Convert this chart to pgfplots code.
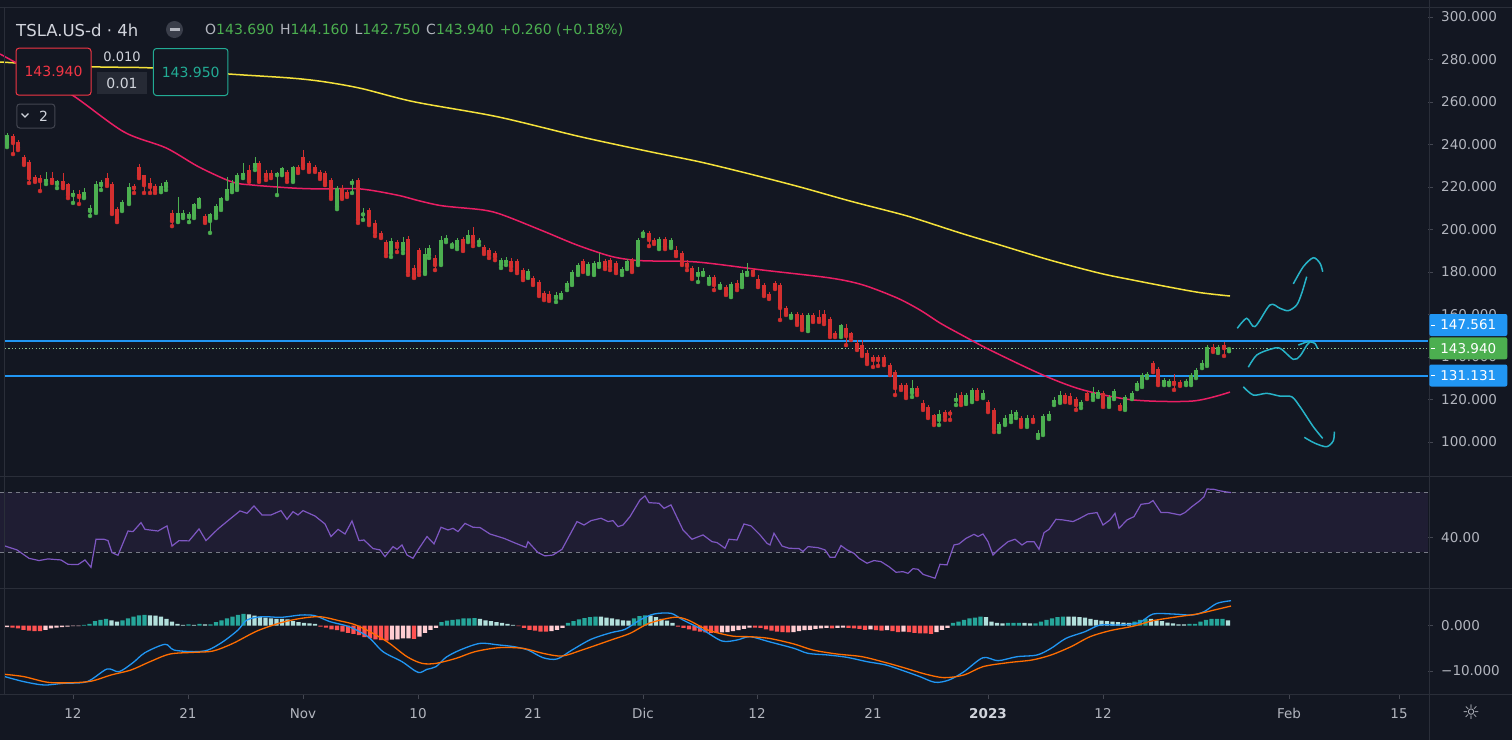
\documentclass[border=0pt]{standalone}
\usepackage{fontspec}
\setmainfont{DejaVu Sans}
\usepackage{pgfplots}
\usepackage{pgfplotstable}
\pgfplotsset{compat=1.18}
\definecolor{bg}{HTML}{131722}
\definecolor{sep}{HTML}{2A2E39}
\definecolor{axtext}{HTML}{B2B5BE}
\definecolor{titletext}{HTML}{D1D4DC}
\definecolor{cup}{HTML}{4CAF50}
\definecolor{cdn}{HTML}{D32F2F}
\definecolor{ma200}{HTML}{F5E23B}
\definecolor{ma50}{HTML}{E91E63}
\definecolor{hblue}{HTML}{2196F3}
\definecolor{hblueb}{RGB}{33,150,243}
\definecolor{pdot}{HTML}{8BC38E}
\definecolor{draw1}{HTML}{27B3C8}
\definecolor{rsi}{HTML}{7E57C2}
\definecolor{rsiband}{HTML}{1F1D33}
\definecolor{rsidash}{HTML}{787B86}
\definecolor{macdb}{HTML}{2196F3}
\definecolor{macdo}{HTML}{FF6D00}
\definecolor{hT}{HTML}{26A69A}
\definecolor{hL}{HTML}{B2DFDB}
\definecolor{hR}{HTML}{FF5252}
\definecolor{hP}{HTML}{FFCDD2}
\definecolor{boxred}{HTML}{F23645}
\definecolor{boxteal}{HTML}{22AB94}
\definecolor{boxgray}{HTML}{262A35}
\definecolor{tickc}{HTML}{434651}
\definecolor{circ}{HTML}{3A3E4A}

\pgfplotstableread{
x lo hi bl bh
7 238.8 245.4 239.8 244.5
46 221.4 227.1 222.8 223.8
57 219.5 223.3 221.4 222.8
73 212.5 218.6 216.2 217.2
84 214.8 219.5 215.3 217.6
90 206.4 211.5 208.7 210.1
96 207.8 222.8 208.7 221.4
101 218.6 223.3 220.9 222.4
122 208.7 213.9 209.6 212.9
129 212.0 221.9 212.9 220.0
161 217.6 221.9 218.6 220.5
166 218.6 223.3 220.0 222.4
178 203.5 215.3 204.0 207.8
183 205.4 209.2 206.4 207.8
189 203.5 208.2 205.9 207.3
194 205.4 212.5 206.4 212.0
199 210.6 215.3 211.5 214.8
210 198.4 207.8 204.0 207.3
216 205.4 212.0 206.4 211.1
221 209.2 215.3 210.1 214.8
227 214.4 224.7 215.3 219.1
232 217.6 223.3 218.6 221.9
237 218.6 226.6 219.5 225.6
243 224.2 231.3 225.2 226.6
255 228.0 234.1 229.4 231.3
277 216.2 227.1 225.6 226.6
282 225.6 229.4 226.6 228.9
293 222.4 229.9 223.3 229.4
337 209.6 220.5 210.6 219.5
352 217.2 223.8 221.9 222.8
363 204.5 210.1 207.1 207.8
391 187.1 196.0 188.9 194.6
403 188.9 196.5 190.4 194.1
425 179.1 191.3 180.0 188.5
429 186.6 192.7 188.0 191.3
441 183.3 196.9 184.2 195.1
446 194.1 197.4 195.1 196.0
452 191.8 194.1 192.7 193.2
457 190.8 196.0 191.8 195.1
468 194.1 199.8 195.1 197.4
479 192.7 196.0 194.2 194.7
501 181.9 186.6 183.3 185.6
506 183.3 187.1 184.7 185.6
528 177.2 181.4 178.1 180.5
556 165.9 170.6 167.8 169.2
561 167.8 171.1 168.7 170.1
567 171.5 175.8 172.9 174.8
572 173.9 180.9 174.8 180.0
578 178.6 184.2 179.5 183.3
588 179.1 184.7 180.0 183.8
594 178.6 185.2 179.5 184.2
599 182.4 188.9 183.3 184.7
622 178.6 182.4 180.0 181.4
627 181.4 186.1 182.4 185.2
638 183.3 196.0 184.2 195.1
643 196.9 199.8 198.1 198.8
659 190.8 196.5 191.8 195.5
671 191.3 196.0 192.2 195.1
698 175.3 182.4 178.6 180.0
703 178.6 181.9 179.5 180.5
709 174.4 178.6 175.3 177.6
720 172.5 175.3 173.4 174.4
731 168.2 175.3 169.2 174.4
742 172.9 180.9 173.9 179.5
747 178.6 184.2 179.5 180.5
791 158.4 161.2 159.3 160.2
808 152.2 160.7 153.2 159.8
841 149.4 155.5 150.4 155.1
912 121.2 129.2 123.1 125.4
939 108.0 115.1 110.4 113.4
956 117.4 123.1 119.8 120.7
966 117.9 123.1 118.8 122.1
972 118.8 125.4 119.8 124.5
983 120.7 124.5 121.6 123.1
999 104.7 109.4 106.1 108.5
1005 108.0 112.7 108.7 111.3
1011 109.4 115.1 110.8 113.2
1016 111.3 115.1 112.7 114.1
1027 107.1 112.7 108.0 111.3
1038 101.9 105.6 102.8 104.2
1043 103.3 113.2 104.2 112.2
1049 110.8 114.6 111.8 113.4
1054 117.4 121.2 118.8 119.8
1060 118.4 124.0 119.3 122.1
1081 116.0 119.8 117.4 118.8
1093 119.8 125.9 121.2 123.1
1098 121.2 124.5 122.1 123.5
1109 116.5 122.1 117.4 121.2
1114 120.2 124.9 121.2 124.0
1125 115.1 122.1 116.0 121.2
1132 120.2 124.0 121.2 123.1
1137 124.9 128.7 125.9 127.8
1142 125.9 132.5 126.8 131.5
1147 130.1 132.9 131.1 132.0
1164 126.8 130.1 127.8 129.2
1169 126.8 129.6 127.8 128.7
1186 126.8 129.6 127.8 128.7
1191 126.8 132.5 127.8 131.5
1196 130.1 134.8 131.1 133.9
1202 134.8 138.6 136.2 137.2
1207 135.8 145.6 136.7 144.7
1218 141.9 145.6 142.8 144.7
1229 142.75 144.16 143.69 143.94
}\gtab

\pgfplotstableread{
x lo hi bl bh
13 235.5 244.9 240.7 244.0
18 237.4 242.1 238.4 241.2
24 230.4 235.1 231.3 234.1
29 221.9 232.7 224.2 231.8
35 222.4 225.6 223.3 224.7
40 218.1 225.6 222.8 224.2
52 221.9 227.1 222.8 224.2
63 219.5 226.6 220.5 222.8
68 214.8 221.9 216.2 221.4
79 212.0 218.6 215.3 216.7
107 220.5 226.6 221.4 224.2
112 207.3 222.4 208.2 221.4
117 203.5 210.6 204.5 209.6
134 217.2 221.4 219.5 220.5
139 224.2 230.8 225.2 229.4
144 217.2 225.6 220.9 225.6
150 217.2 224.2 220.0 221.9
155 217.2 221.4 218.6 220.5
172 201.6 209.2 204.0 207.8
205 203.1 207.3 204.0 206.4
249 222.4 230.4 223.3 228.0
259 222.4 232.2 223.3 231.3
266 223.3 228.0 224.7 226.6
271 224.2 228.0 225.2 226.6
287 222.4 228.0 223.8 227.1
298 226.6 230.4 227.5 229.4
303 228.9 237.4 229.9 234.1
309 227.1 232.2 228.0 231.3
315 227.1 230.4 228.0 229.4
320 223.8 228.0 224.7 227.1
325 220.9 227.5 221.9 226.6
331 214.4 224.2 215.3 223.3
342 214.4 220.9 215.3 219.5
347 215.3 218.6 216.2 217.6
358 203.1 224.2 204.5 223.3
369 202.1 210.1 203.1 209.2
375 196.9 204.5 198.4 203.1
381 196.0 199.3 196.9 198.4
386 187.5 195.1 188.9 194.1
397 189.4 195.1 191.8 194.1
408 178.6 196.9 180.0 195.5
414 177.2 183.3 177.6 181.9
419 178.6 191.3 180.0 190.4
435 180.9 188.0 183.3 186.6
463 189.9 196.5 190.8 195.5
473 192.2 201.2 193.6 197.4
484 188.5 192.7 189.4 191.8
489 186.6 191.3 188.0 190.4
495 185.6 189.9 187.1 188.9
511 180.9 186.6 182.4 185.2
517 179.5 186.1 180.5 185.2
523 176.2 181.9 177.2 180.9
533 173.9 178.1 174.8 177.2
539 168.7 176.2 169.6 175.3
544 166.8 171.1 167.8 170.1
549 166.4 171.1 167.3 169.6
583 180.0 186.1 180.9 185.2
605 181.4 186.1 182.4 185.2
610 180.9 186.6 182.4 185.6
616 179.5 185.2 180.5 184.2
632 180.0 186.6 180.9 185.6
649 192.2 199.3 195.1 198.4
654 193.2 196.0 194.1 195.1
665 190.8 196.5 191.8 195.5
676 187.5 192.2 188.5 190.4
682 183.3 189.9 184.2 188.9
687 180.9 185.6 182.8 184.2
692 176.7 182.8 177.6 181.9
714 171.5 178.6 173.9 177.6
726 169.2 173.9 170.1 172.9
737 171.5 176.2 172.9 174.8
753 178.6 181.9 179.5 180.9
758 172.9 178.6 173.9 176.7
764 168.7 174.8 169.6 173.9
769 167.3 170.6 168.2 169.6
775 172.0 175.8 172.9 174.8
780 157.4 174.8 163.1 173.9
786 159.8 164.0 160.7 163.1
797 155.1 161.2 156.0 160.2
802 152.7 160.7 153.6 159.8
813 156.5 160.7 157.4 159.8
819 156.5 162.1 157.4 158.8
824 155.5 162.1 156.5 160.2
830 149.4 158.8 150.4 157.9
835 149.4 152.2 150.4 151.3
846 145.6 155.5 149.9 153.6
851 148.0 151.8 149.4 151.3
857 143.3 148.0 144.7 146.6
862 140.5 148.0 141.4 145.6
867 136.7 143.3 137.6 141.9
873 135.3 140.9 138.6 140.0
878 135.8 140.9 138.6 140.0
884 136.2 140.9 137.6 140.0
890 131.5 137.2 132.5 136.2
895 122.1 133.9 125.4 132.9
901 124.5 127.8 125.4 126.8
906 120.7 127.8 121.6 126.8
917 122.1 126.4 123.1 125.4
923 115.1 119.8 116.0 118.4
928 111.3 117.4 112.2 116.5
934 108.0 113.4 108.7 112.7
945 110.4 115.1 111.8 114.1
950 110.4 115.1 113.4 114.1
961 117.4 123.5 118.8 122.1
977 120.2 125.4 121.2 124.5
988 114.1 119.8 115.1 118.8
994 104.7 116.0 106.1 115.1
1021 107.1 112.2 108.0 111.3
1033 109.4 112.7 110.4 111.3
1065 118.8 123.1 119.8 122.1
1070 118.4 123.1 119.3 121.6
1076 115.1 121.2 117.4 120.2
1087 120.2 124.0 121.2 123.1
1103 116.5 124.0 117.4 123.1
1120 115.5 118.4 116.5 117.4
1153 132.9 138.1 133.9 137.2
1158 126.8 135.3 127.8 134.4
1174 124.5 132.0 127.3 128.7
1180 126.4 129.2 127.3 128.2
1213 142.4 146.1 143.3 144.7
1224 140.5 147.1 144.2 145.6
}\rtab

\pgfplotsset{
  tv/.style={
    scale only axis, width=1428pt, xmin=0, xmax=1428,
    axis line style={draw=none},
    tick style={draw=tickc, line width=0.8pt},
    tick align=outside, major tick length=5pt,
    ytick pos=right, xtick=\empty,
    tick label style={font=\fontsize{13.5}{16}\selectfont, text=axtext},
    yticklabel style={anchor=west, inner sep=0pt, xshift=8pt},
  },
  wick/.style={color=#1, draw=#1, only marks, mark=none, forget plot,
    error bars/.cd, y dir=plus, y explicit, error mark=none,
    error bar style={color=#1, draw=#1, line width=1pt}},
  body/.style={color=#1, draw=#1, only marks, mark=none, forget plot,
    error bars/.cd, y dir=plus, y explicit, error mark=none,
    error bar style={color=#1, draw=#1, line width=4.6pt}},
}

\begin{document}
\begin{tikzpicture}[x=1pt,y=1pt]
\fill[bg] (0pt,0pt) rectangle (1512pt,-740pt);
\path[use as bounding box] (0pt,0pt) rectangle (1512pt,-740pt);

% ---------------- price pane ----------------
\begin{axis}[tv, at={(0pt,-7pt)}, anchor=north west, height=469pt,
  ymin=84, ymax=304.7,
  ytick={100,120,...,300},
  yticklabels={100.000,120.000,140.000,160.000,180.000,200.000,220.000,240.000,260.000,280.000,300.000}]
\addplot[draw=hblueb, line width=1.3pt] coordinates {(5,131.131) (1428,131.131)};
\addplot[draw=hblueb, line width=1.2pt] coordinates {(5,147.561) (1428,147.561)};
\addplot[color=pdot, line width=0.9pt, dash pattern=on 1.2pt off 2.2pt] coordinates {(5,143.94) (1428,143.94)};
% moving averages
\addplot[ma200, line width=1.5pt, smooth] coordinates {
(0,278.8)(91,276.6)(153,276.0)(228,273.2)(290,271.3)(323,269.6)(361,266.4)(414,260.1)(497,253.1)(580,243.7)(650,236.6)(700,231.8)(750,226.1)(800,220.0)(850,213.4)(900,207.3)(920,204.5)(960,198.4)(1000,192.7)(1050,185.6)(1100,179.4)(1133,176.2)(1167,173.1)(1200,170.3)(1230,168.7)};
\addplot[ma50, line width=1.5pt, smooth] coordinates {
(0,282.6)(40,272.2)(75,262.4)(124,245.9)(166,238.4)(199,229.4)(232,222.4)(253,220.9)(293,219.5)(320,219.1)(360,219.1)(397,216.2)(420,213.4)(443,211.1)(483,209.2)(503,206.8)(543,199.3)(577,192.7)(610,187.5)(633,185.6)(650,185.2)(697,184.7)(763,180.9)(830,177.2)(863,173.9)(897,167.8)(920,162.1)(940,156.0)(960,150.8)(990,143.3)(1043,131.5)(1083,124.5)(1133,119.8)(1193,119.3)(1230,123.5)};
% candles
\addplot[wick=cup] table[x=x, y=lo, y error plus expr=\thisrow{hi}-\thisrow{lo}] {\gtab};
\addplot[wick=cdn] table[x=x, y=lo, y error plus expr=\thisrow{hi}-\thisrow{lo}] {\rtab};
\addplot[body=cup] table[x=x, y=bl, y error plus expr=\thisrow{bh}-\thisrow{bl}] {\gtab};
\addplot[body=cdn] table[x=x, y=bl, y error plus expr=\thisrow{bh}-\thisrow{bl}] {\rtab};
% hand drawn scenarios
\addplot[draw1, line width=1.5pt, smooth] coordinates {(1237.3,153.5)(1246.7,158.2)(1255,154.3)(1270,164.5)(1280,162.9)(1288.3,161.8)(1296.7,164.5)(1301.7,170.0)(1306.7,177.8)};
\addplot[draw1, line width=1.5pt, smooth] coordinates {(1293.3,174.4)(1303.3,182.5)(1313.3,186.7)(1320,184.1)(1322.7,180.1)};
\addplot[draw1, line width=1.5pt, smooth] coordinates {(1248.3,135.2)(1256.7,140.9)(1270,143.6)(1280,144.1)(1293.3,138.9)(1300,140.5)(1306.7,145.5)(1310,147.0)};
\addplot[draw1, line width=1.5pt, smooth] coordinates {(1298.3,145.6)(1308.3,147.2)(1315,146.4)(1317.3,144.1)};
\addplot[draw1, line width=1.5pt, smooth] coordinates {(1243.3,126.0)(1253.3,122.1)(1266.7,122.9)(1280,121.6)(1291.7,121.3)(1300,116.6)(1313.3,107.2)(1322.7,101.7)};
\addplot[draw1, line width=1.5pt, smooth] coordinates {(1304.3,102.2)(1315,99.4)(1326.7,97.8)(1333.3,100.6)(1334.3,104.9)};
\end{axis}

% ---------------- RSI pane ----------------
\begin{axis}[tv, at={(0pt,-477pt)}, anchor=north west, height=111pt,
  ymin=6.2, ymax=80.2, ytick={40}, yticklabels={40.00}]
\fill[rsiband] (axis cs:0,30) rectangle (axis cs:1428,70);
\addplot[rsidash, line width=0.8pt, dash pattern=on 4pt off 4pt] coordinates {(0,70) (1428,70)};
\addplot[rsidash, line width=0.8pt, dash pattern=on 4pt off 4pt] coordinates {(0,30) (1428,30)};
\addplot[rsi, line width=1.2pt] coordinates {
(5,34.2)(17,31.6)(29,26.0)(39,24.5)(48,25.6)(61,24.9)(68,22.0)(78,21.8)(85,24.9)(91,20.0)(96,38.7)(104,38.7)(108,37.8)(112,29.8)(118,28.0)(128,44.2)(133,43.8)(141,49.8)(145,45.3)(158,44.2)(167,47.6)(172,34.2)(179,37.8)(189,37.6)(199,45.6)(206,37.8)(218,45.6)(228,51.1)(240,57.6)(247,56.0)(254,60.9)(262,54.9)(271,54.9)(281,57.8)(287,52.0)(293,57.1)(298,54.9)(303,57.8)(315,54.2)(325,48.9)(331,40.5)(338,45.3)(345,42.2)(352,50.9)(359,37.8)(364,38.2)(373,32.5)(380,31.6)(385,27.1)(393,33.8)(397,32.0)(402,34.9)(407,28.2)(413,26.0)(418,31.6)(427,40.5)(434,35.6)(441,46.7)(448,44.9)(453,46.0)(458,43.8)(465,49.3)(473,46.7)(480,46.5)(490,42.2)(504,39.3)(514,36.5)(526,33.3)(528,37.1)(538,29.8)(545,27.6)(553,28.2)(562,32.0)(577,50.5)(584,48.2)(591,51.1)(601,52.7)(608,50.5)(613,51.1)(618,47.1)(623,48.2)(630,53.8)(640,64.9)(645,67.6)(649,63.1)(659,62.7)(664,59.3)(671,61.6)(683,44.9)(692,38.7)(703,41.6)(712,37.1)(717,36.5)(725,32.7)(729,38.7)(737,38.2)(744,48.9)(751,47.6)(760,41.6)(767,36.0)(770,34.9)(774,42.7)(782,34.2)(789,32.7)(799,32.5)(803,30.5)(808,33.8)(818,33.1)(825,31.6)(830,26.7)(835,26.7)(841,34.5)(847,31.6)(854,29.3)(859,26.0)(867,22.7)(874,24.5)(881,23.8)(889,20.4)(896,16.7)(903,17.1)(908,16.0)(913,19.1)(918,18.7)(923,15.3)(930,13.8)(935,12.7)(940,22.0)(947,21.6)(954,34.9)(959,35.6)(966,39.3)(974,42.0)(978,40.5)(983,42.2)(988,37.1)(993,28.2)(998,31.6)(1008,37.1)(1015,38.7)(1022,34.9)(1027,37.1)(1034,37.1)(1039,32.0)(1044,43.1)(1049,45.3)(1056,52.0)(1063,51.6)(1073,50.5)(1080,52.7)(1088,55.6)(1097,56.5)(1103,48.2)(1110,51.6)(1115,56.0)(1119,46.0)(1127,51.6)(1134,53.8)(1141,62.0)(1149,62.7)(1153,64.5)(1161,56.5)(1168,56.5)(1180,54.9)(1185,56.5)(1192,60.5)(1200,64.5)(1204,67.1)(1207,72.2)(1214,72.0)(1219,71.1)(1224,70.5)(1231,69.8)};
\end{axis}

% ---------------- MACD pane ----------------
\begin{axis}[tv, at={(0pt,-589pt)}, anchor=north west, height=105pt,
  ymin=-15.08, ymax=8.1, ytick={-10,0}, yticklabels={−10.000,0.000},
  xtick={73,188,303,418,533,643,757,873,988,1103,1289,1399},
  xticklabels={12,21,Nov,10,21,Dic,12,21,\textbf{\color{titletext}2023},12,Feb,15},
  xtick pos=bottom,
  xticklabel style={anchor=base, inner sep=0pt, yshift=-19pt}]
\addplot[ybar, bar width=4.4pt, bar shift=0pt, fill=hT, draw=none] coordinates {
(84,0.2)(89.5,0.4)(95,1.0)(100.5,1.3)(106,1.5)(122.5,1.2)(128,1.6)(133.5,2.0)(139,2.3)(144.5,2.4)(188.5,0.3)(199.5,0.4)(210.5,0.3)(216,0.8)(221.5,1.2)(227,1.6)(232.5,2.0)(238,2.4)(243.5,2.6)(441.5,0.8)(447,1.1)(452.5,1.3)(458,1.4)(463.5,1.6)(469,1.6)(474.5,1.7)(568,0.6)(573.5,1.0)(579,1.4)(584.5,1.7)(590,1.9)(595.5,2.0)(634,1.6)(639.5,2.1)(645,2.3)(953,0.6)(958.5,0.9)(964,1.3)(969.5,1.6)(975,1.8)(980.5,2.0)(1008,0.6)(1013.5,0.6)(1019,0.6)(1035.5,0.5)(1041,0.9)(1046.5,1.3)(1052,1.6)(1057.5,1.9)(1063,2.0)(1134.5,0.9)(1140,1.3)(1145.5,1.5)(1189.5,0.4)(1195,0.4)(1200.5,0.9)(1206,1.3)(1211.5,1.5)(1217,1.5)(1222.5,1.5)};
\addplot[ybar, bar width=4.4pt, bar shift=0pt, fill=hL, draw=none] coordinates {
(111.5,1.2)(117,0.9)(150,2.3)(155.5,2.2)(161,2.0)(166.5,1.5)(172,0.9)(177.5,0.4)(183,0.2)(194,0.2)(205,0.3)(249,2.5)(254.5,2.2)(260,2.0)(265.5,1.8)(271,1.6)(276.5,1.5)(282,1.5)(287.5,1.4)(293,1.0)(298.5,0.8)(304,0.6)(309.5,0.5)(315,0.4)(480,1.5)(485.5,1.2)(491,1.0)(496.5,0.8)(502,0.6)(507.5,0.4)(513,0.2)(601,2.0)(606.5,1.8)(612,1.6)(617.5,1.4)(623,1.2)(628.5,1.1)(650.5,2.2)(656,1.9)(661.5,1.5)(667,1.1)(672.5,0.6)(986,1.9)(991.5,0.9)(997,0.6)(1002.5,0.5)(1024.5,0.6)(1030,0.5)(1068.5,2.0)(1074,2.0)(1079.5,1.9)(1085,1.8)(1090.5,1.5)(1096,1.3)(1101.5,1.1)(1107,1.0)(1112.5,0.9)(1118,0.8)(1123.5,0.7)(1129,0.6)(1151,1.5)(1156.5,1.2)(1162,1.0)(1167.5,0.7)(1173,0.5)(1178.5,0.3)(1184,0.3)(1228,1.2)};
\addplot[ybar, bar width=4.4pt, bar shift=0pt, fill=hR, draw=none] coordinates {
(12.5,-0.4)(18,-0.6)(23.5,-0.9)(29,-1.1)(34.5,-1.2)(40,-1.2)(320.5,-0.2)(326,-0.4)(331.5,-0.8)(337,-1.0)(342.5,-1.3)(348,-1.6)(353.5,-1.8)(359,-2.1)(364.5,-2.5)(370,-2.8)(375.5,-3.0)(381,-3.2)(386.5,-3.3)(414,-2.9)(518.5,-0.1)(524,-0.5)(529.5,-0.9)(535,-1.1)(540.5,-1.3)(546,-1.3)(678,-0.2)(683.5,-0.5)(689,-0.8)(694.5,-1.1)(700,-1.3)(705.5,-1.5)(711,-1.6)(716.5,-1.6)(755,-0.4)(760.5,-0.5)(766,-0.8)(771.5,-1.1)(777,-1.3)(782.5,-1.4)(788,-1.5)(832,-0.6)(848.5,-0.5)(854,-0.6)(859.5,-0.7)(865,-0.9)(876,-1.0)(881.5,-1.1)(892.5,-1.2)(898,-1.4)(909,-1.4)(914.5,-1.6)(920,-1.7)(925.5,-1.7)(931,-1.8)};
\addplot[ybar, bar width=4.4pt, bar shift=0pt, fill=hP, draw=none] coordinates {
(7,-0.3)(45.5,-0.9)(51,-0.6)(56.5,-0.4)(62,-0.3)(67.5,-0.2)(73,-0.1)(78.5,-0.1)(392,-3.1)(397.5,-3.0)(403,-2.8)(408.5,-2.8)(419.5,-2.4)(425,-1.6)(430.5,-0.9)(436,-0.5)(551.5,-1.2)(557,-0.9)(562.5,-0.5)(722,-1.5)(727.5,-1.4)(733,-1.2)(738.5,-1.0)(744,-0.7)(749.5,-0.4)(793.5,-1.4)(799,-1.2)(804.5,-1.0)(810,-0.9)(815.5,-0.7)(821,-0.6)(826.5,-0.5)(837.5,-0.5)(843,-0.4)(870.5,-0.8)(887,-1.0)(903.5,-1.3)(936.5,-1.4)(942,-0.9)(947.5,-0.5)};
\addplot[macdb, line width=1.3pt, smooth] coordinates {
(5,-11.25)(24,-12.36)(44,-13.09)(63,-12.72)(87,-12.36)(107,-9.56)(119,-10.15)(133,-8.16)(145,-5.95)(165,-4.11)(174,-5.37)(194,-5.73)(208,-5.37)(223,-3.53)(238,-0.95)(247,1.26)(262,1.99)(281,1.85)(301,2.36)(315,2.21)(330,0.89)(349,-0.22)(368,-2.43)(383,-5.73)(402,-7.94)(418,-10.30)(427,-9.63)(436,-9.04)(446,-6.98)(460,-5.37)(480,-3.90)(499,-4.26)(514,-4.63)(528,-5.37)(543,-7.06)(557,-7.35)(572,-5.37)(591,-3.01)(611,-1.54)(625,-0.80)(640,1.26)(654,2.58)(671,2.73)(683,1.26)(703,-0.95)(722,-3.38)(737,-3.16)(750,-2.43)(769,-3.53)(794,-5.00)(808,-6.10)(828,-6.47)(847,-6.98)(867,-7.94)(886,-8.68)(906,-10.15)(920,-11.25)(935,-12.50)(949,-11.99)(964,-10.15)(983,-7.06)(998,-7.72)(1017,-6.84)(1037,-6.47)(1051,-5.00)(1066,-2.79)(1085,-1.32)(1100,0.15)(1119,0.15)(1139,0.66)(1153,2.58)(1173,2.58)(1192,2.36)(1204,3.10)(1217,4.94)(1231,5.52)};
\addplot[macdo, line width=1.3pt, smooth] coordinates {
(5,-10.74)(24,-11.25)(48,-12.50)(73,-12.58)(92,-12.21)(111,-10.88)(131,-9.78)(150,-7.94)(170,-6.25)(194,-5.88)(213,-5.59)(233,-3.90)(257,-1.17)(281,0.67)(301,1.62)(320,1.99)(339,1.11)(354,0.30)(368,-1.10)(388,-3.67)(407,-6.84)(422,-8.31)(436,-8.31)(456,-7.21)(475,-5.73)(499,-4.85)(523,-5.00)(543,-6.10)(562,-6.69)(582,-5.37)(611,-3.16)(630,-1.69)(649,0.52)(674,1.85)(688,1.26)(708,-0.95)(732,-2.28)(750,-2.43)(769,-2.79)(794,-4.04)(813,-5.37)(837,-6.25)(862,-6.84)(886,-8.16)(906,-9.41)(925,-10.66)(944,-11.47)(964,-10.88)(983,-9.04)(1008,-8.16)(1032,-7.57)(1051,-6.47)(1071,-4.63)(1090,-2.43)(1110,-1.10)(1134,-0.07)(1153,1.11)(1178,1.99)(1197,2.58)(1217,3.61)(1231,4.34)};
\end{axis}

% ---------------- separators ----------------
\draw[sep, line width=1pt] (0pt,-7.5pt) -- (1512pt,-7.5pt);
\draw[sep, line width=1.6pt] (0pt,-476.5pt) -- (1512pt,-476.5pt);
\draw[sep, line width=1.6pt] (0pt,-588.5pt) -- (1512pt,-588.5pt);
\draw[sep, line width=1pt] (0pt,-694.5pt) -- (1512pt,-694.5pt);
\draw[sep, line width=1pt] (1429pt,0pt) -- (1429pt,-740pt);
\draw[sep, line width=1pt] (4.5pt,-7.5pt) -- (4.5pt,-694.5pt);

% ---------------- legend / header ----------------
\node[anchor=west, inner sep=0pt, text=titletext, font=\fontsize{16.5}{19}\selectfont] at (16pt,-30pt) {TSLA.US-d · 4h};
\fill[circ] (174.5pt,-29.5pt) circle (8.5pt);
\fill[axtext] (169.5pt,-31pt) rectangle (179.5pt,-28pt);
\node[anchor=west, inner sep=0pt, font=\fontsize{14}{17}\selectfont] at (205pt,-30pt) {%
\textcolor{axtext}{O}\textcolor{cup}{143.690}\hspace{6pt}\textcolor{axtext}{H}\textcolor{cup}{144.160}\hspace{6pt}\textcolor{axtext}{L}\textcolor{cup}{142.750}\hspace{6pt}\textcolor{axtext}{C}\textcolor{cup}{143.940}\hspace{6pt}\textcolor{cup}{+0.260 (+0.18\%)}};

\node[draw=boxred, fill=bg, line width=1pt, rounded corners=3pt, minimum width=75pt, minimum height=47pt, inner sep=0pt, text=boxred, font=\fontsize{14}{17}\selectfont] at (53.5pt,-71.7pt) {143.940};
\node[draw=boxteal, fill=bg, line width=1pt, rounded corners=3pt, minimum width=74.5pt, minimum height=47pt, inner sep=0pt, text=boxteal, font=\fontsize{14}{17}\selectfont] at (190.7pt,-72pt) {143.950};
\node[inner sep=0pt, text=titletext, font=\fontsize{13}{15}\selectfont] at (122pt,-56.5pt) {0.010};
\node[fill=boxgray, minimum width=50pt, minimum height=22pt, inner sep=0pt, text=titletext, font=\fontsize{14}{17}\selectfont] at (122pt,-83pt) {0.01};
\node[draw=tickc, fill=bg, line width=1pt, rounded corners=3pt, minimum width=38pt, minimum height=24pt, inner sep=0pt] at (35.8pt,-116pt) {};
\draw[titletext, line width=1.2pt] (21.5pt,-113.5pt) -- (25pt,-117pt) -- (28.5pt,-113.5pt);
\node[inner sep=0pt, text=titletext, font=\fontsize{14}{17}\selectfont] at (43.5pt,-116pt) {2};

% ---------------- price labels on right axis ----------------
\node[fill=hblueb, rounded corners=2pt, minimum width=78pt, minimum height=22pt, inner sep=0pt, text=white, font=\fontsize{13.5}{16}\selectfont] at (1468.3pt,-325pt) {147.561};
\node[fill=cup, rounded corners=2pt, minimum width=78pt, minimum height=22pt, inner sep=0pt, text=white, font=\fontsize{13.5}{16}\selectfont] at (1468.3pt,-348.3pt) {143.940};
\node[fill=hblueb, rounded corners=2pt, minimum width=78pt, minimum height=22pt, inner sep=0pt, text=white, font=\fontsize{13.5}{16}\selectfont] at (1468.3pt,-375.5pt) {131.131};
\draw[white, line width=1pt] (1431pt,-325pt) -- (1435pt,-325pt);
\draw[white, line width=1pt] (1431pt,-348.3pt) -- (1435pt,-348.3pt);
\draw[white, line width=1pt] (1431pt,-375.5pt) -- (1435pt,-375.5pt);

\node[inner sep=0pt, text=axtext, font=\fontsize{20}{22}\selectfont] at (1471pt,-712pt) {☼};
\end{tikzpicture}
\end{document}
